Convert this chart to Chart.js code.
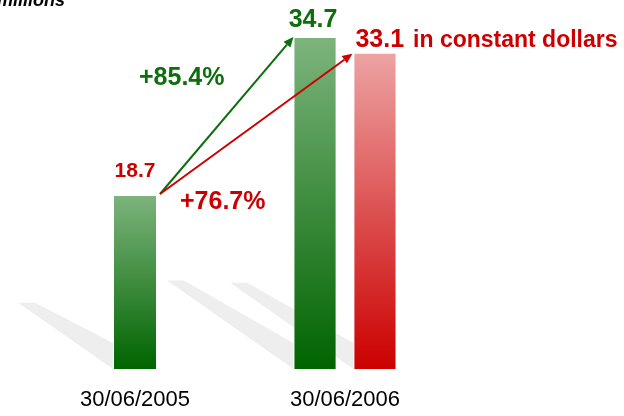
<!DOCTYPE html>
<html>
<head>
<meta charset="utf-8">
<script src="https://cdn.jsdelivr.net/npm/chart.js@4/dist/chart.umd.min.js"></script>
<style>
html,body{margin:0;padding:0;background:#fff;}
#wrap{width:624px;height:416px;position:relative;}
</style>
</head>
<body>
<div id="wrap"><canvas id="c" width="624" height="416"></canvas></div>
<script>
const categories = ["30/06/2005", "30/06/2006"];
const nominalValues = [18.7, 34.7];
const constantValues = [null, 33.1];
const unitLabel = "millions";
const nominalGrowth = "+85.4%";
const constantGrowth = "+76.7%";
const constantSuffix = "in constant dollars";

const FONT = "'Liberation Sans', Arial, sans-serif";
const AXIS_MIN = 1.08;
const AXIS_MAX = 38.45;

function gradFor(ctx, top, bottom) {
  const chart = ctx.chart;
  const {chartArea, scales} = chart;
  if (!chartArea || !scales.y || ctx.raw == null) return top;
  const y0 = scales.y.getPixelForValue(ctx.raw);
  const y1 = scales.y.getPixelForValue(AXIS_MIN);
  const g = chart.ctx.createLinearGradient(0, y0, 0, y1);
  g.addColorStop(0, top);
  g.addColorStop(1, bottom);
  return g;
}

const decor = {
  id: 'decor',
  beforeDatasetsDraw(chart) {
    const c = chart.ctx;
    c.save();
    chart.data.datasets.forEach((ds, di) => {
      const meta = chart.getDatasetMeta(di);
      meta.data.forEach((el, i) => {
        if (ds.data[i] == null) return;
        const p = el.getProps(['x','y','base','width'], true);
        const left = p.x - p.width / 2;
        const h = p.base - p.y;
        const dx = 60 + 0.2 * h;
        const dy = 0.7 * dx;
        const w = 17;
        c.beginPath();
        c.moveTo(left - dx, p.base - dy);
        c.lineTo(left - dx + w, p.base - dy);
        c.lineTo(left, p.base - 26);
        c.lineTo(left, p.base);
        c.closePath();
        c.fillStyle = 'rgba(232,232,232,0.75)';
        c.fill();
      });
    });
    c.restore();
  },
  afterDatasetsDraw(chart) {
    const c = chart.ctx;
    const m0 = chart.getDatasetMeta(0);
    const m1 = chart.getDatasetMeta(1);
    const b1 = m0.data[0].getProps(['x','y','width'], true);
    const b2 = m0.data[1].getProps(['x','y','width'], true);
    const r2 = m1.data[1].getProps(['x','y','width'], true);
    const green = '#0d6e0d', red = '#cc0000';
    const sx = b1.x + b1.width / 2 + 3, sy = b1.y - 1;
    function arrow(x1, y1, x2, y2, col) {
      c.save();
      c.strokeStyle = col; c.fillStyle = col; c.lineWidth = 2;
      const a = Math.atan2(y2 - y1, x2 - x1);
      const L = 10, W = 4.5;
      const bx = x2 - L * Math.cos(a), by = y2 - L * Math.sin(a);
      c.beginPath(); c.moveTo(x1, y1); c.lineTo(bx, by); c.stroke();
      c.beginPath();
      c.moveTo(x2, y2);
      c.lineTo(bx + W * Math.sin(a), by - W * Math.cos(a));
      c.lineTo(bx - W * Math.sin(a), by + W * Math.cos(a));
      c.closePath(); c.fill();
      c.restore();
    }
    arrow(sx, sy, b2.x - b2.width / 2, b2.y, green);
    arrow(sx, sy, r2.x - r2.width / 2 - 1, r2.y + 1, red);

    c.save();
    c.textBaseline = 'alphabetic';
    c.textAlign = 'center';
    c.fillStyle = red;
    c.font = 'bold 21px ' + FONT;
    c.fillText(String(nominalValues[0]), b1.x, b1.y - 18);
    c.fillStyle = green;
    c.font = 'bold 25px ' + FONT;
    c.fillText(String(nominalValues[1]), b2.x - 2, b2.y - 10);
    c.textAlign = 'left';
    c.fillStyle = red;
    c.font = 'bold 25px ' + FONT;
    const lx = r2.x - r2.width / 2 + 2;
    const ly = r2.y - 6;
    c.fillText(String(constantValues[1]), lx, ly);
    const w33 = c.measureText(String(constantValues[1])).width;
    c.font = 'bold 23px ' + FONT;
    c.fillText(constantSuffix, lx + w33 + 9, ly);
    c.font = 'bold 25px ' + FONT;
    c.fillStyle = green;
    c.fillText(nominalGrowth, 139, 85);
    c.fillStyle = red;
    c.fillText(constantGrowth, 180, 209);
    c.fillStyle = '#000';
    c.font = 'italic bold 18px ' + FONT;
    c.fillText(unitLabel, -3, 6);
    c.restore();
  }
};

new Chart(document.getElementById('c'), {
  type: 'bar',
  data: {
    labels: categories,
    datasets: [
      {
        data: nominalValues,
        backgroundColor: (ctx) => gradFor(ctx, '#7db47d', '#006400'),
        borderColor: 'rgba(255,255,255,0.35)',
        borderWidth: 1,
        skipNull: true,
        base: AXIS_MIN
      },
      {
        data: constantValues,
        backgroundColor: (ctx) => gradFor(ctx, '#eda3a3', '#cc0000'),
        borderColor: 'rgba(255,255,255,0.35)',
        borderWidth: 1,
        skipNull: true,
        base: AXIS_MIN
      }
    ]
  },
  options: {
    responsive: false,
    animation: false,
    devicePixelRatio: 1,
    layout: { padding: { left: 30, right: 174, top: 0, bottom: 0 } },
    datasets: { bar: { categoryPercentage: 0.571, barPercentage: 0.72, maxBarThickness: 44 } },
    plugins: { legend: { display: false }, tooltip: { enabled: false } },
    scales: {
      y: { display: false, min: AXIS_MIN, max: AXIS_MAX },
      x: {
        grid: { display: false, drawTicks: false },
        border: { display: false },
        ticks: { color: '#000', font: { family: FONT, size: 22 }, padding: 18 },
        afterFit(scale) { scale.height = 47; }
      }
    }
  },
  plugins: [decor]
});
</script>
</body>
</html>
